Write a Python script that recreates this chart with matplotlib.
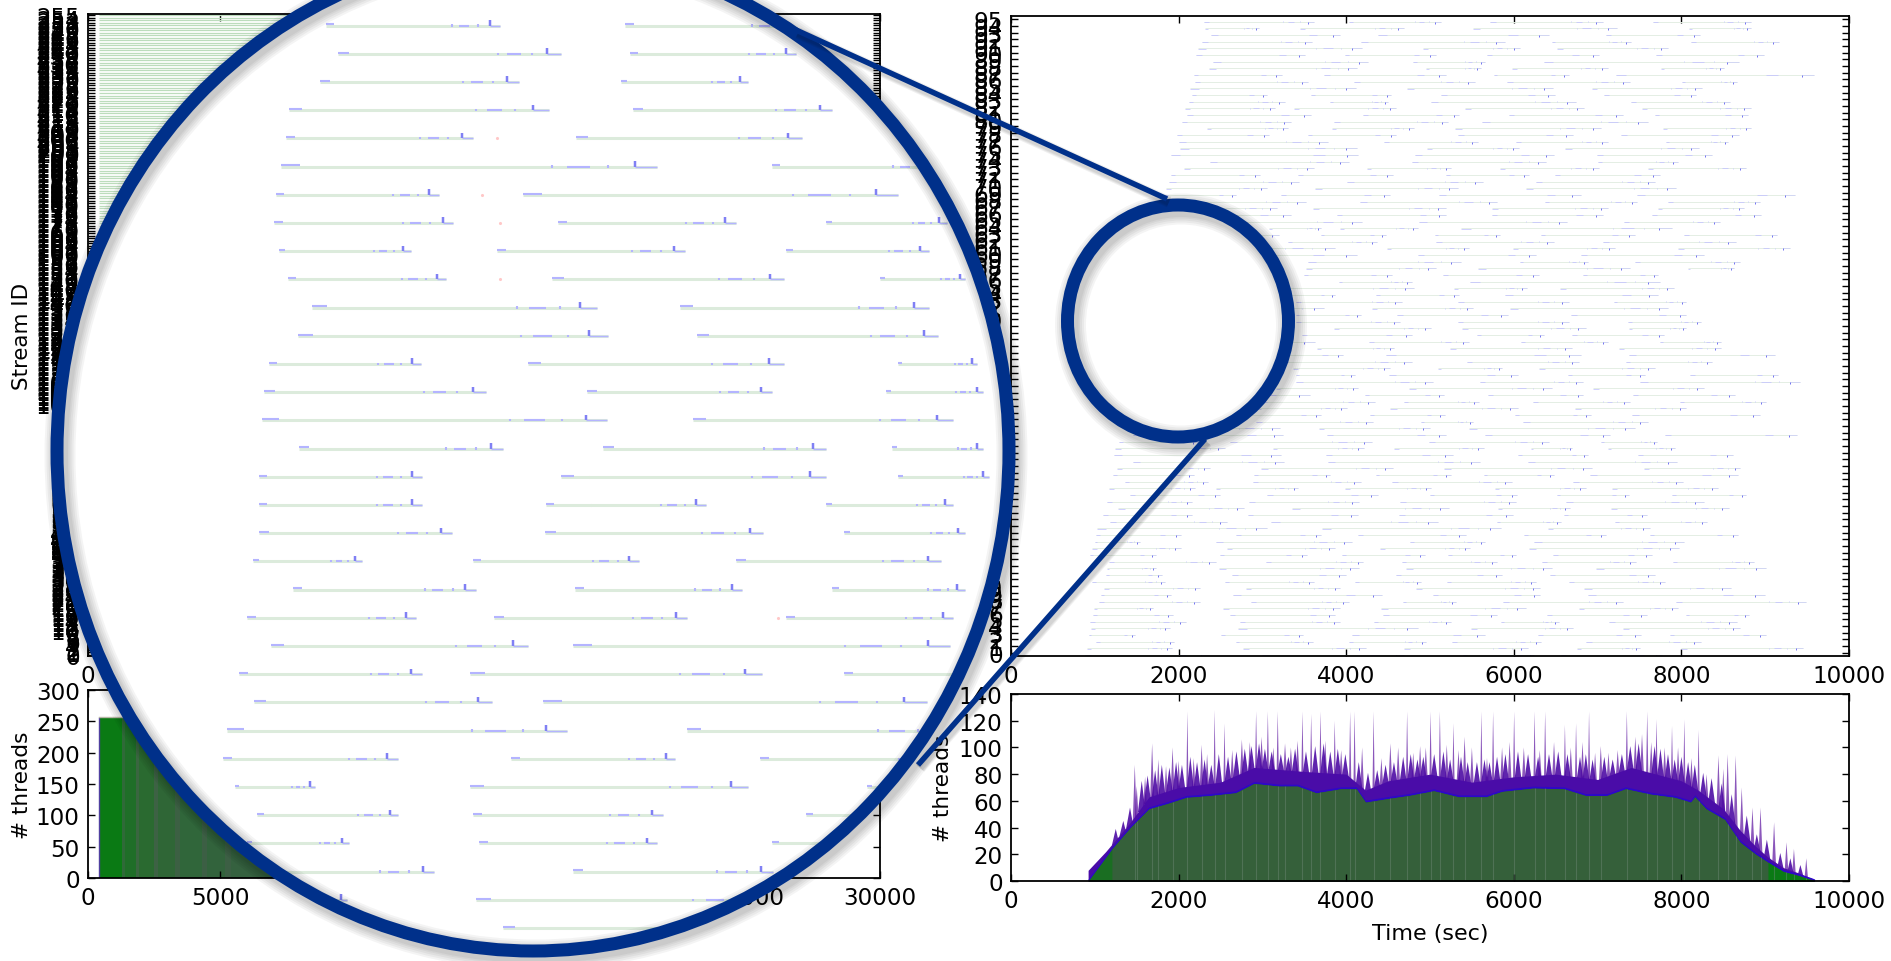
import matplotlib
matplotlib.use('Agg')
import matplotlib.pyplot as plt
import numpy as np
from matplotlib.patches import Ellipse

W, H = 1891, 962
NAVY = '#00308a'

# (start, end) of each job per stream in seconds, stream 95 first
stream_jobs = [
    [(2300, 3620), (4030, 5130), (5720, 7060), (7660, 8830)],
    [(2320, 2960), (3450, 4690), (5510, 7230), (8090, 8830)],
    [(2390, 3930), (4380, 6420), (7100, 8220)],
    [(2280, 3590), (4180, 5890), (6450, 7400), (8120, 9160)],
    [(2230, 4190), (4920, 6070), (6520, 7840)],
    [(2210, 3510), (3980, 5070), (5675, 7020), (7700, 8980)],
    [(2410, 4260), (4800, 5660), (6355, 8690)],
    [(2360, 4130), (4950, 5605), (5980, 7120), (7755, 8510)],
    [(2180, 3230), (3735, 5190), (5760, 6655), (7220, 9580)],
    [(2190, 3550), (4090, 5540), (5920, 7390), (8010, 8660)],
    [(2140, 4120), (4725, 6470), (6930, 8240)],
    [(2160, 3060), (3580, 4540), (5130, 6495), (7075, 8180)],
    [(2120, 3270), (3810, 4500), (5010, 6740), (7400, 8575)],
    [(2080, 3150), (3380, 4600), (5420, 6840), (7530, 8830)],
    [(2100, 3580), (4200, 5350), (5940, 7300), (7680, 8790)],
    [(2040, 3340), (3860, 5220), (5620, 7600)],
    [(2335, 3300), (3830, 4810), (5300, 7045), (7780, 8830)],
    [(1980, 3080), (3540, 4600), (5340, 6710), (7280, 8690)],
    [(2000, 3780), (4450, 5570), (6030, 7120), (7815, 8560)],
    [(2020, 4130), (4965, 6060), (6610, 8210)],
    [(1910, 4145), (4820, 6480), (6990, 8370)],
    [(2380, 4030), (4780, 6390), (7010, 7960)],
    [(2060, 3620), (4245, 5250), (5835, 7020), (7600, 8765)],
    [(1910, 2970), (3430, 4555), (5190, 6185), (6490, 7740)],
    [(1890, 3440), (4010, 5630), (6260, 7690)],
    [(1850, 3060), (3625, 5335), (6145, 7940)],
    [(1830, 2690), (3220, 4525), (5110, 6800), (7475, 9355)],
    [(1820, 3520), (4165, 5805), (6370, 7475), (7840, 8940)],
    [(1810, 3170), (3600, 5190), (5745, 7120), (7720, 8745)],
    [(1800, 3340), (3890, 5190), (5735, 7065), (7645, 8950)],
    [(2250, 4190), (4870, 6640), (7320, 8460)],
    [(1780, 2490), (3080, 3705), (3930, 4855), (5365, 7885)],
    [(1770, 3200), (3700, 4470), (5060, 5835), (6320, 7445), (8030, 9145)],
    [(1750, 2760), (3300, 4370), (5070, 6480), (7060, 8650)],
    [(1730, 3870), (4490, 5465), (5990, 7210), (7960, 9290)],
    [(1940, 4130), (4855, 6270), (6800, 8265)],
    [(1720, 2990), (3550, 5365), (6070, 6890), (7445, 8705)],
    [(1660, 3040), (3520, 5070), (5575, 7385), (8080, 8630)],
    [(1965, 2900), (3495, 4545), (5155, 6300), (6825, 7725)],
    [(1600, 3170), (3910, 4780), (5480, 7740)],
    [(1625, 2595), (3080, 4810), (5290, 6155), (6550, 7915)],
    [(1610, 2595), (3150, 3870), (4355, 5345), (5900, 7725)],
    [(1640, 2640), (3400, 4660), (5335, 6655), (7190, 8060)],
    [(1695, 3735), (4310, 5510), (5955, 7840)],
    [(1585, 2815), (3400, 4175), (4610, 5930), (6685, 8060)],
    [(1545, 2670), (3400, 4645), (5330, 6655), (7365, 8235)],
    [(1555, 2875), (3855, 5010), (5380, 6860), (7375, 8060)],
    [(1515, 2920), (3470, 4790), (5565, 6360), (6700, 7795)],
    [(1495, 3625), (4270, 5465), (6085, 7130), (7740, 8470)],
    [(1485, 3040), (3650, 4575), (5235, 6700), (7250, 8470)],
    [(1470, 2335), (2945, 3960), (4475, 6800), (7375, 9115)],
    [(1425, 2610), (3225, 4780), (5440, 6780), (7335, 8370)],
    [(1675, 2930), (3365, 4525), (5090, 5865), (6300, 7680)],
    [(1575, 2760), (3400, 4105), (4515, 6055), (6650, 7560), (8105, 9155)],
    [(1395, 2920), (3400, 5040), (5600, 6820), (7505, 9410)],
    [(1380, 2435), (3165, 4135), (4745, 6450), (6945, 8265)],
    [(1350, 3565), (4220, 5170), (5690, 6830), (7420, 8645)],
    [(1310, 2260), (2990, 4340), (4690, 5580), (6225, 7385), (7985, 9010)],
    [(1305, 2360), (2930, 4005), (4525, 6050), (6735, 8060)],
    [(1320, 2100), (2670, 3705), (4285, 5175), (6015, 6920), (7415, 8940)],
    [(1410, 2290), (2920, 4320), (4895, 5510), (6115, 7600)],
    [(1470, 3215), (3670, 5000), (5465, 7445)],
    [(1450, 3240), (3770, 5190), (5660, 7150), (7800, 9380)],
    [(1290, 2230), (2610, 4310), (4985, 6420), (7040, 7710)],
    [(1245, 2550), (3125, 4210), (4575, 5640), (6200, 6695), (7120, 7925)],
    [(1225, 3225), (3755, 5275), (6055, 6890), (7485, 8615)],
    [(1455, 3255), (3780, 5600), (6170, 7945)],
    [(1265, 2375), (2985, 4555), (5165, 6935), (7555, 8705)],
    [(1220, 2185), (2900, 3810), (4350, 5245), (5640, 6480), (6905, 8675)],
    [(1360, 2345), (2885, 4175), (4550, 5980), (6710, 8020)],
    [(1175, 2200), (2450, 3430), (3990, 5015), (5775, 6860), (7170, 8440)],
    [(1420, 2495), (3060, 4380), (5000, 6040), (6510, 7375), (7890, 8775)],
    [(1150, 2155), (2845, 4150), (4645, 6025), (6625, 8265)],
    [(1280, 2785), (3355, 5230), (5815, 6665), (7160, 8570)],
    [(1100, 2160), (2825, 4135), (4630, 5990), (6595, 7590)],
    [(1185, 2580), (3105, 5090), (5800, 6565), (7205, 8310)],
    [(1030, 3050), (3710, 5845), (6405, 7620)],
    [(1010, 2025), (2690, 3695), (4135, 5425), (6125, 7095), (7620, 8675)],
    [(1000, 1540), (2445, 4065), (4760, 5660), (6245, 8030)],
    [(970, 2025), (2575, 3870), (4405, 5480), (6180, 7970)],
    [(940, 1730), (2495, 3530), (3950, 4940), (5220, 6025), (6470, 7650)],
    [(1165, 2445), (3045, 4205), (4660, 5805), (6340, 7455), (7900, 8870)],
    [(1145, 1730), (2480, 4150), (4710, 6450), (6975, 9015)],
    [(1130, 1800), (2640, 4000), (4590, 5865), (6430, 7680)],
    [(970, 1840), (2550, 3620), (4110, 4895), (5200, 6270), (6660, 7810)],
    [(1110, 2260), (2805, 3930), (4830, 6315), (6840, 8590)],
    [(1070, 1910), (2650, 4430), (5030, 6315), (6880, 9000)],
    [(1045, 2260), (2860, 4035), (4680, 5305), (5870, 7300), (7930, 9485)],
    [(995, 1700), (2535, 3930), (4415, 6145), (6780, 7960)],
    [(980, 1935), (2615, 3870), (4440, 5805), (6395, 7590), (8055, 8805)],
    [(940, 2090), (2735, 3930), (4335, 5245), (5850, 6535), (7135, 8660)],
    [(950, 1900), (2710, 4855), (5495, 6710), (7300, 8705)],
    [(930, 1480), (2510, 3490), (4075, 5660), (6285, 7515), (7860, 9010)],
    [(1015, 1950), (2680, 3605), (4035, 4955), (5265, 6330), (6860, 8235)],
    [(910, 1920), (2770, 4235), (4690, 6170), (6760, 7505), (8000, 9450)],
    [(880, 2360), (3000, 4690), (5395, 6245), (6565, 7770)],
]

# jobs seen inside the large lens, top row first, in lens units
lens_jobs = [
    [(270, 415), (518, 665)],
    [(280, 465), (522, 660)],
    [(265, 430), (515, 620)],
    [(240, 455), (525, 690)],
    [(237, 392), (478, 665)],
    [(233, 545), (640, 780)],
    [(229, 364), (434, 745)],
    [(227, 376), (463, 610), (685, 785)],
    [(231, 341), (412, 568), (652, 770)],
    [(239, 370), (458, 650), (730, 800)],
    [(259, 495), (564, 770)],
    [(247, 504), (578, 778)],
    [(223, 349), (438, 650), (745, 810)],
    [(219, 403), (487, 640), (735, 815)],
    [(217, 503), (575, 790)],
    [(248, 417), (500, 685), (740, 815)],
    [(215, 350), (465, 685), (745, 820)],
    [(215, 350), (453, 585), (685, 790)],
    [(215, 375), (452, 633), (700, 800)],
    [(210, 300), (392, 530), (610, 780)],
    [(243, 395), (477, 615), (690, 800)],
    [(205, 345), (410, 570), (652, 790)],
    [(225, 438), (475, 788)],
    [(198, 350), (390, 632), (700, 850)],
    [(211, 408), (450, 769)],
    [(188, 470), (570, 790)],
    [(185, 330), (424, 560), (630, 790)],
    [(195, 261), (390, 620), (719, 800)],
    [(213, 330), (392, 550), (668, 790)],
    [(205, 289), (397, 545), (640, 760)],
    [(200, 360), (475, 641)],
    [(205, 288), (395, 645)],
    [(300, 320), (417, 620)],
]
lens_pink_x = [400, 415, 415, 488, 490, 412, 645]
lens_pink_row = [6, 7, 9, 16, 17, 4, 21]

# left run: all 256 streams start together
left_stream_start = 430
left_stream_end = 8200
left_thread_count = 256
left_band_edges = [430, 1300, 1420, 1800, 1950, 2500, 2650, 3300, 3500, 4300, 4500, 5200, 5400, 7500]
left_band_colours = ['#0a7a14', '#2f6a38', '#1f6e28', '#3a6640', '#2a6a30', '#3d6244', '#2f6636',
                     '#3c6043', '#30663a', '#3c5f44', '#32633c', '#3c5f44', '#35613f']

# threads over time for the right run
green_t = [920, 1204, 1425, 1647, 1868, 2090, 2385, 2680, 2900, 3200, 3420, 3640, 3936, 4120, 4230, 4527,
           4750, 5044, 5340, 5670, 5857, 6226, 6595, 6854, 7112, 7334, 7630, 7925, 8110, 8160, 8294, 8515,
           8700, 8885, 9033, 9217, 9400, 9550, 9590]
green_h = [0, 24, 40, 54, 58, 62.5, 64, 66, 73, 71, 71, 66, 69, 69, 59, 62,
           64, 67.5, 63, 63, 67, 69.5, 69, 64, 64, 69, 65, 62.5, 59, 63, 54, 46,
           29, 20, 14, 7, 4, 1, 0]
purple_t = [920, 1130, 1425, 1647, 2000, 2500, 2900, 3500, 4000, 4230, 4500, 5000, 5500, 6000, 6500,
            7000, 7400, 8000, 8200, 8500, 8700, 8885, 9030, 9217, 9400, 9550, 9590]
purple_h = [8, 22, 44, 63, 70, 74, 85, 82, 80, 68, 75, 80, 74, 78, 80,
            76, 85, 75, 68, 54, 38, 26, 18, 10, 6, 2, 0]
spike_t = [1477, 1500, 1684, 1758, 1928, 2105, 2275, 2430, 2548, 2755, 2925, 3065, 3183, 3270, 3478, 3582,
           3693, 3863, 4047, 4100, 4327, 4527, 4727, 4882, 5007, 5118, 5280, 5413, 5613, 5753, 6004, 6248,
           6374, 6610, 6743, 6898, 7038, 7349, 7592, 7703, 7888, 8035, 8205, 8442, 8552, 8648, 8848, 8944,
           9106, 9254, 9343, 9490]
spike_h = [87, 71, 103, 91, 100, 127, 102, 128, 118, 106, 127, 127, 127, 103, 127, 125,
           127, 120, 127, 127, 127, 103, 127, 101, 127, 127, 118, 108, 127, 127, 127, 127,
           127, 117, 118, 127, 101, 127, 127, 121, 116, 121, 113, 94, 95, 94, 55, 55,
           44, 29, 24, 17]
small_spike_t = [1600, 1850, 2000, 2180, 2340, 2640, 2850, 2990, 3130, 3340, 3420, 3750, 3940, 4190, 4420,
                 4620, 4800, 4950, 5200, 5340, 5500, 5680, 5860, 5950, 6120, 6310, 6480, 6680, 6820, 6970,
                 7130, 7240, 7450, 7530, 7640, 7800, 7960, 8120, 8300, 8500, 8720]
small_spike_h = [78, 86, 90, 92, 95, 98, 104, 108, 100, 100, 105, 105, 98, 100, 92,
                 100, 96, 100, 102, 98, 100, 92, 100, 104, 100, 98, 104, 100, 104, 96,
                 96, 98, 108, 110, 104, 100, 100, 92, 80, 84, 70]
# low jagged fringe on top of the solid purple band
fringe_t = [1250, 1340, 1420, 1560, 1630, 1720, 1800, 1890, 1970, 2040, 2140, 2220, 2310, 2390, 2480,
            2590, 2690, 2790, 2870, 2960, 3030, 3110, 3220, 3310, 3390, 3520, 3630, 3730, 3810, 3900,
            3990, 4150, 4260, 4370, 4470, 4570, 4680, 4770, 4850, 4920, 5050, 5160, 5240, 5370, 5450,
            5560, 5650, 5710, 5800, 5900, 6050, 6170, 6290, 6420, 6530, 6640, 6790, 6860, 6940, 7080,
            7180, 7290, 7390, 7490, 7680, 7750, 7840, 7920, 8000, 8080, 8160, 8260, 8360, 8480, 8600,
            8780, 8900, 9020, 9180, 9300, 9420]
fringe_h = [36, 42, 52, 72, 76, 80, 84, 82, 86, 84, 90, 86, 88, 84, 92,
            90, 94, 96, 98, 100, 96, 94, 92, 90, 96, 94, 98, 100, 94, 96,
            92, 86, 78, 80, 84, 86, 90, 92, 88, 90, 92, 94, 88, 90, 86,
            86, 88, 86, 90, 92, 94, 92, 90, 92, 94, 92, 90, 92, 88, 90,
            88, 92, 98, 100, 98, 96, 92, 88, 90, 86, 84, 78, 74, 70, 62,
            46, 32, 28, 18, 14, 9]


def style_axes(ax, xticks, yticks, xlim, ylim):
    ax.set_xlim(*xlim)
    ax.set_ylim(*ylim)
    ax.set_xticks(xticks)
    ax.set_yticks(yticks)
    ax.tick_params(direction='in', top=True, right=True, length=5, width=1, labelsize=16.6, pad=6)
    for s in ax.spines.values():
        s.set_linewidth(1.3)


def px_axes(left, top, right, bottom, **kw):
    return fig.add_axes([left / W, 1 - bottom / H, (right - left) / W, (bottom - top) / H], **kw)


def draw_jobs(ax, rows, jobs, up, line_lw, line_col, blue_lw, blue_col, spike_col):
    # every job has the same phases: start flag, idle line, dashes near the end, a spike, a tail
    line, flag, dash, tick, tail, spikes = [], [], [], [], [], []
    for y, row in zip(rows, jobs):
        for s, e in row:
            d = e - s
            line.append((y, s, e))
            flag.append((y - up * 0.12, s, s + 0.05 * d))
            dash.append((y, s + 0.76 * d, s + 0.82 * d))
            tail.append((y, s + 0.94 * d, e))
            tick.append((y, s + 0.72 * d))
            tick.append((y, s + 0.87 * d))
            spikes.append((y, s + 0.94 * d))
    out = []
    for segs, lw, col in [(line, line_lw, line_col), (flag, blue_lw, blue_col),
                          (dash, blue_lw, blue_col), (tail, blue_lw * 0.7, blue_col)]:
        a = np.array(segs)
        out.append(ax.hlines(a[:, 0], a[:, 1], a[:, 2], colors=col, linewidth=lw))
    a = np.array(tick)
    out.append(ax.vlines(a[:, 1], a[:, 0] - up * 0.12, a[:, 0] + up * 0.12, colors=blue_col, linewidth=blue_lw))
    a = np.array(spikes)
    out.append(ax.vlines(a[:, 1], a[:, 0] - up * 0.6, a[:, 0], colors=spike_col, linewidth=blue_lw * 1.2))
    return out


plt.rcParams['font.family'] = 'DejaVu Sans'
fig = plt.figure(figsize=(W / 100, H / 100), dpi=100)

# top left: 256 streams
ax_streams_l = px_axes(88, 15, 880, 657)
left_rows = np.arange(left_thread_count)
ax_streams_l.hlines(left_rows, left_stream_start, left_stream_end, colors='#bcdcbc', linewidth=0.9)
style_axes(ax_streams_l, range(0, 30001, 5000), left_rows, (0, 30000), (-0.5, 255.5))
ax_streams_l.set_yticklabels([str(i) for i in left_rows])
ax_streams_l.set_ylabel('Stream ID', fontsize=15.4)
ax_streams_l.yaxis.set_label_coords(-0.071, 0.5)

# bottom left: thread count
ax_threads_l = px_axes(88, 691, 880, 879)
for i, col in enumerate(left_band_colours):
    ax_threads_l.fill_between(left_band_edges[i:i + 2], 0, left_thread_count, color=col, linewidth=0)
ax_threads_l.plot([left_stream_start - 15] * 2, [0, left_thread_count], color='#5040a0', lw=1)
ax_threads_l.plot(left_band_edges[:2], [left_thread_count + 1] * 2, color='#b8b8a8', lw=1)
style_axes(ax_threads_l, range(0, 30001, 5000), range(0, 301, 50), (0, 30000), (0, 300))
ax_threads_l.set_ylabel('# threads', fontsize=15.6)
ax_threads_l.yaxis.set_label_coords(-0.071, 0.5)

# top right: 96 streams
ax_streams_r = px_axes(1011, 17, 1849, 657)
right_rows = np.arange(len(stream_jobs) - 1, -1, -1) - 0.35
draw_jobs(ax_streams_r, right_rows, stream_jobs, 0.5, 0.7, '#e4eee4', 0.55, '#c4c4ff', '#6a6af0')
style_axes(ax_streams_r, range(0, 10001, 2000), range(96), (0, 10000), (-0.5, 95.5))
ax_streams_r.set_yticklabels([str(i) for i in range(96)])

# bottom right: thread count
ax_threads_r = px_axes(1011, 695, 1849, 882)
for t, h in zip(spike_t + small_spike_t, spike_h + small_spike_h):
    base = np.interp(t, purple_t, purple_h)
    w = 14 if h > 110 else 24
    ax_threads_r.fill([t - w, t, t + w], [base - 4, h, base - 4], color='#5a109f', alpha=0.7, linewidth=0)
for t, h in zip(fringe_t, fringe_h):
    base = np.interp(t, purple_t, purple_h)
    ax_threads_r.fill([t - 45, t, t + 45], [base - 4, max(h, base) + 3, base - 4], color='#4e0ca4', alpha=0.9,
                      linewidth=0)
ax_threads_r.fill_between(purple_t, 0, purple_h, color='#4a0ca8', linewidth=0)
green_x = np.array(green_t)
ax_threads_r.fill_between(green_x, 0, np.array(green_h) + 1.5, color='#2d08c8', linewidth=0)
ax_threads_r.fill_between(green_x, 0, green_h, color='#1a6e22', linewidth=0)
inner = green_x >= 1204
ax_threads_r.fill_between(green_x[inner], 0, np.array(green_h)[inner], color='#35603a', linewidth=0)
late = green_x >= 9033
ax_threads_r.fill_between(green_x[late], 0, np.array(green_h)[late], color='#0a7a14', linewidth=0)
ax_threads_r.vlines(spike_t, 0, np.interp(spike_t, green_t, green_h), colors='#6f8a78', linewidth=0.8, alpha=0.45)
style_axes(ax_threads_r, range(0, 10001, 2000), range(0, 141, 20), (0, 10000), (0, 140))
ax_threads_r.set_xlabel('Time (sec)', fontsize=16)
ax_threads_r.xaxis.set_label_coords(0.5, -0.225)
ax_threads_r.set_ylabel('# threads', fontsize=15.6)
ax_threads_r.yaxis.set_label_coords(-0.069, 0.5)

# overlay in pixel coordinates for the white lens bodies
under = fig.add_axes([0, 0, 1, 1], zorder=5)
under.set_xlim(0, W)
under.set_ylim(H, 0)
under.axis('off')
big = (533, 452, 476, 500)
small = (1178, 322, 110.5, 116)
big_fill = Ellipse(big[:2], 2 * big[2], 2 * big[3], facecolor='white', edgecolor='none')
small_fill = Ellipse(small[:2], 2 * small[2], 2 * small[3], facecolor='white', edgecolor='none')
under.add_patch(big_fill)
under.add_patch(small_fill)

# contents of the large lens
row_top_px, row_step_px = 26.5, 28.2
ax_lens = fig.add_axes([50 / W, 1 - 960 / H, 966 / W, 1010 / H], zorder=6)
ax_lens.set_xlim(50 / 1.206, 1016 / 1.206)
ax_lens.set_ylim((960 - row_top_px) / row_step_px, (-50 - row_top_px) / row_step_px)
ax_lens.axis('off')
lens_rows = np.arange(len(lens_jobs))
drawn = draw_jobs(ax_lens, lens_rows, lens_jobs, 0.33, 2.2, '#dcebdc', 1.5, '#b4b4ff', '#8080f4')
drawn.append(ax_lens.scatter(lens_pink_x, lens_pink_row, s=5, color='#ffc8c8', linewidths=0))
for art in drawn:
    art.set_clip_path(big_fill)

# overlay with connectors and the lens rims
over = fig.add_axes([0, 0, 1, 1], zorder=7)
over.set_xlim(0, W)
over.set_ylim(H, 0)
over.axis('off')
connectors = [((796, 1167), (31, 200)), ((918, 1205), (766, 440))]
for xs, ys in connectors:
    for extra in [6, 4, 2]:
        over.plot(np.array(xs) + 2, np.array(ys) + 3, color='black', alpha=0.06, solid_capstyle='butt',
                  lw=(5.5 + extra) * 0.72)
for xs, ys in connectors:
    over.plot(xs, ys, color=NAVY, lw=5.5 * 0.72, solid_capstyle='butt')
for cx, cy, rx, ry in (big, small):
    for extra in [18, 14, 10, 6, 3]:
        over.add_patch(Ellipse((cx + 3, cy + 4), 2 * rx, 2 * ry, fill=False, edgecolor='black', alpha=0.045,
                               linewidth=(13 + extra) * 0.72))
    over.add_patch(Ellipse((cx, cy), 2 * rx, 2 * ry, fill=False, edgecolor=NAVY, linewidth=13 * 0.72))

fig.savefig('out.png', dpi=100)
